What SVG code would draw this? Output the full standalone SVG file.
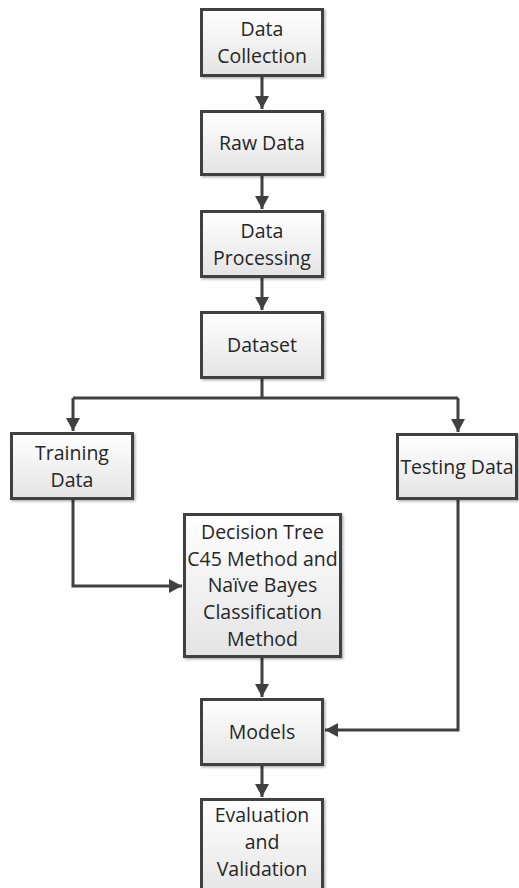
<svg xmlns="http://www.w3.org/2000/svg" width="519" height="888" viewBox="0 0 519 888">
<style>
.box{fill:url(#g);stroke:#404040;stroke-width:3;filter:url(#sh)}
.t{font-family:"Open Sans","Noto Sans",sans-serif;font-size:19.5px;fill:#262626;text-anchor:middle}
.c{fill:none;stroke:#404040;stroke-width:3}
</style>
<defs>
<linearGradient id="g" x1="0" y1="0" x2="0" y2="1">
<stop offset="0" stop-color="#ffffff"/>
<stop offset="1" stop-color="#e4e4e4"/>
</linearGradient>
<filter id="sh" x="-10%" y="-10%" width="130%" height="130%">
<feDropShadow dx="1.5" dy="1.5" stdDeviation="1.2" flood-color="#000" flood-opacity="0.3"/>
</filter>
<marker id="a" markerUnits="userSpaceOnUse" markerWidth="14" markerHeight="14" refX="13" refY="7" orient="auto">
<path d="M0,0 L13,7 L0,14 z" fill="#404040"/>
</marker>
</defs>
<rect width="519" height="888" fill="#ffffff"/>
<g id="connectors">
<path class="c" d="M262,77 V109" marker-end="url(#a)"/>
<path class="c" d="M262,176 V209" marker-end="url(#a)"/>
<path class="c" d="M262,278 V310" marker-end="url(#a)"/>
<path class="c" d="M262,379 V398"/>
<path class="c" d="M73,398 H458"/>
<path class="c" d="M73,398 V431" marker-end="url(#a)"/>
<path class="c" d="M458,398 V432" marker-end="url(#a)"/>
<path class="c" d="M73,500 V586 H182" marker-end="url(#a)"/>
<path class="c" d="M262,658 V697" marker-end="url(#a)"/>
<path class="c" d="M458,500 V730 H325" marker-end="url(#a)"/>
<path class="c" d="M262,766 V797" marker-end="url(#a)"/>
</g>
<g id="data-collection">
<rect class="box" x="201.5" y="9.5" width="121" height="66"/>
<text class="t" x="262" y="36">Data</text>
<text class="t" x="262" y="63">Collection</text>
</g>
<g id="raw-data">
<rect class="box" x="201.5" y="111.5" width="121" height="63"/>
<text class="t" x="262" y="150">Raw Data</text>
</g>
<g id="data-processing">
<rect class="box" x="201.5" y="211.5" width="121" height="65"/>
<text class="t" x="262" y="237.5">Data</text>
<text class="t" x="262" y="264.5">Processing</text>
</g>
<g id="dataset">
<rect class="box" x="201.5" y="312.5" width="121" height="65"/>
<text class="t" x="262" y="352">Dataset</text>
</g>
<g id="training-data">
<rect class="box" x="11.5" y="433.5" width="121" height="65"/>
<text class="t" x="72" y="459.5">Training</text>
<text class="t" x="72" y="486.5">Data</text>
</g>
<g id="testing-data">
<rect class="box" x="397.5" y="434.5" width="119" height="64"/>
<text class="t" x="457" y="473.5">Testing Data</text>
</g>
<g id="decision-tree">
<rect class="box" x="184.5" y="514.5" width="156" height="142"/>
<text class="t" x="262.5" y="539">Decision Tree</text>
<text class="t" x="262.5" y="565.7">C45 Method and</text>
<text class="t" x="262.5" y="592.4">Naïve Bayes</text>
<text class="t" x="262.5" y="619.1">Classification</text>
<text class="t" x="262.5" y="645.8">Method</text>
</g>
<g id="models">
<rect class="box" x="201.5" y="699.5" width="121" height="65"/>
<text class="t" x="262" y="739">Models</text>
</g>
<g id="evaluation">
<rect class="box" x="201.5" y="799.5" width="121" height="100"/>
<text class="t" x="262" y="822">Evaluation</text>
<text class="t" x="262" y="849">and</text>
<text class="t" x="262" y="876">Validation</text>
</g>
</svg>
